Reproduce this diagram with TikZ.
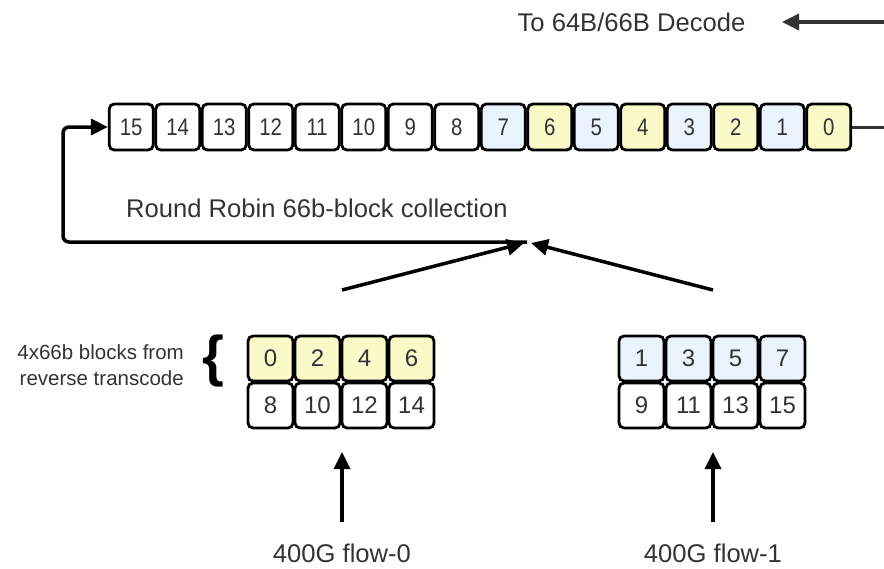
\documentclass[tikz,border=0pt]{standalone}
\usepackage{fontspec}
\setmainfont{Liberation Sans}
\newfontfamily\narrowfont[FakeStretch=0.85]{Liberation Sans}
\usetikzlibrary{arrows.meta}
\definecolor{cellyellow}{HTML}{FAF9C8}
\definecolor{cellblue}{HTML}{EAF3FE}
\definecolor{txt}{HTML}{333333}
\begin{document}
\begin{tikzpicture}[x=1pt,y=-1pt,
  cellbase/.style={draw=black, line width=2.8pt, rounded corners=5pt, inner sep=0pt, text=txt},
  topcell/.style={cellbase, minimum width=44pt, minimum height=46pt, font=\narrowfont\fontsize{24}{24}\selectfont},
  grpcell/.style={cellbase, minimum width=45pt, minimum height=45pt, font=\fontsize{24}{24}\selectfont},
  lbl/.style={text=txt, inner sep=0pt, font=\fontsize{25.6}{26}\selectfont},
  arr/.style={line width=3.5pt, -{Triangle[length=17pt,width=16pt]}},
  loop/.style={line width=3.5pt, rounded corners=6pt, -{Triangle[length=17pt,width=16pt]}}
]
\useasboundingbox (0,0) rectangle (884,568);

% top row of blocks
\foreach \i in {0,...,15}{
  \ifnum\i>7 \def\cf{white}\else\ifodd\i \def\cf{cellblue}\else\def\cf{cellyellow}\fi\fi
  \node[topcell, fill=\cf] (t\i) at ({828.75-46.5*\i},127) {\i};
}

% flow-0 group
\foreach \k/\v in {0/0,1/2,2/4,3/6}{
  \node[grpcell, fill=cellyellow] (g\v) at ({270.5+47*\k},358.5) {\v};
}
\foreach \k/\v in {0/8,1/10,2/12,3/14}{
  \node[grpcell, fill=white] (g\v) at ({270.5+47*\k},405.5) {\v};
}
% flow-1 group
\foreach \k/\v in {0/1,1/3,2/5,3/7}{
  \node[grpcell, fill=cellblue] (g\v) at ({641.5+47*\k},358.5) {\v};
}
\foreach \k/\v in {0/9,1/11,2/13,3/15}{
  \node[grpcell, fill=white] (g\v) at ({641.5+47*\k},405.5) {\v};
}

% labels
\node[lbl] (dec) at (631.5,22) {To 64B/66B Decode};
\node[lbl, anchor=west] (rr) at (126,208) {Round Robin 66b-block collection};
\node[lbl] (flow0) at (342,553) {400G flow-0};
\node[lbl] (flow1) at (713,553) {400G flow-1};
\node[text=txt, inner sep=0pt, anchor=east, align=right, font=\fontsize{20.5}{26}\selectfont] (note) at (184,365) {4x66b blocks from\\reverse transcode};
\node[inner sep=0pt, font=\bfseries\fontsize{56}{56}\selectfont] (brace) at (213,361) {\{};

% coordinates
\coordinate (decin) at (884,22);
\coordinate (dectip) at (782,22);
\coordinate (out) at (884,127);
\coordinate (jn) at (527,242);
\coordinate (c1) at (63,242);
\coordinate (c2) at (63,127);
\coordinate (d0) at (342,290);
\coordinate (d1) at (713,290);
\coordinate (jl) at (524,243);
\coordinate (jr) at (531,243);
\coordinate (u0) at (342,522);
\coordinate (u0t) at (342,452);
\coordinate (u1) at (713,522);
\coordinate (u1t) at (713,452);

% connectors
\draw[arr, draw=txt, fill=txt] (decin) -- (dectip);
\draw[line width=3pt, draw=txt] (t0.east) -- (out);
\draw[loop] (jn) -- (c1) -- (c2) -- (t15.west);
\draw[arr] (d0) -- (jl);
\draw[arr] (d1) -- (jr);
\draw[arr] (u0) -- (u0t);
\draw[arr] (u1) -- (u1t);
\end{tikzpicture}
\end{document}
